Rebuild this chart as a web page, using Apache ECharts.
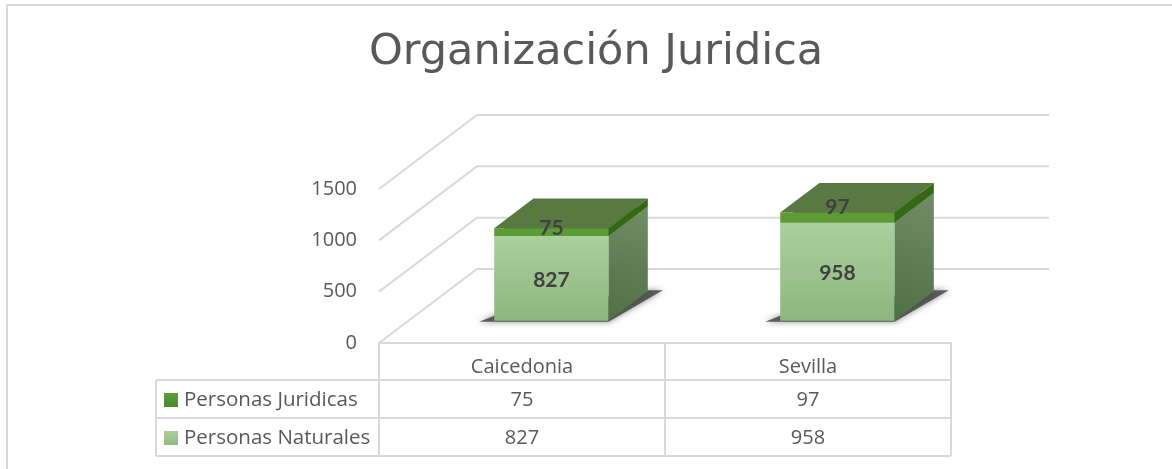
<!DOCTYPE html>
<html><head><meta charset="utf-8">
<style>html,body{margin:0;padding:0;background:#fff}#c{width:1172px;height:469px}</style>
<script src="https://cdn.jsdelivr.net/npm/echarts@6/dist/echarts.min.js"></script>
</head><body><div id="c"></div>
<script>
const categories = ['Caicedonia', 'Sevilla'];
const personasNaturales = [827, 958];
const personasJuridicas = [75, 97];
const valueTicks = [0, 500, 1000, 1500];

const DX = 98, DY = -74, NEAR = 0.30, FAR = 0.70;
const LINE = '#d9d9d9', TXT = '#595959', BOLD = '#404040';
const UI = '"Open Sans","Noto Sans",sans-serif';
const ROW_Y = { j: 400, n: 438 };
const JUR_LABEL_LIFT = [4, 10];

const vgrad = (a, b) => new echarts.graphic.LinearGradient(0, 0, 0, 1, [{offset:0,color:a},{offset:1,color:b}]);
const dgrad = (a, b) => new echarts.graphic.LinearGradient(1, 0, 0, 1, [{offset:0,color:a},{offset:1,color:b}]);

function box(api, i, base, value, pal) {
  const c0 = api.coord([i, base]), c1 = api.coord([i, base + value]);
  const w = api.size([1, 0])[0] * 0.4;
  const x0 = c0[0] + DX * NEAR - w / 2, x1 = x0 + w;
  const yb = c0[1] + DY * NEAR, yt = c1[1] + DY * NEAR;
  const dx = DX * (FAR - NEAR), dy = DY * (FAR - NEAR);
  const poly = (pts, fill) => ({ type: 'polygon', shape: { points: pts }, style: { fill } });
  return {
    x0, x1, yb, yt, dx, dy,
    faces: [
      poly([[x0,yb],[x1,yb],[x1,yt],[x0,yt]], pal.front),
      poly([[x1,yb],[x1+dx,yb+dy],[x1+dx,yt+dy],[x1,yt]], pal.side),
      poly([[x0,yt],[x1,yt],[x1+dx,yt+dy],[x0+dx,yt+dy]], pal.top)
    ]
  };
}
const rule = pts => ({ type: 'polyline', silent: true, z: 0, shape: { points: pts }, style: { stroke: LINE, lineWidth: 2, fill: null } });

const option = {
  animation: false,
  backgroundColor: '#fff',
  title: { text: 'Organización Juridica', left: 364, top: 26,
    textStyle: { fontFamily: '"DejaVu Sans",sans-serif', fontSize: 43, fontWeight: 'normal', color: TXT } },
  legend: {
    orient: 'vertical', left: 159, top: 381, itemWidth: 14, itemHeight: 14, itemGap: 10,
    selectedMode: false, icon: 'rect',
    data: ['Personas Juridicas', 'Personas Naturales'],
    textStyle: { fontFamily: UI, fontSize: 20.5, color: TXT, padding: [0,0,0,1], lineHeight: 28 }
  },
  graphic: [
    rule([[7,469],[7,5],[1172,5]]),
    rule([[379,343],[379,456]]), rule([[665,343],[665,456]]), rule([[951,343],[951,456]]),
    rule([[156,380],[951,380]]), rule([[156,418],[951,418]]), rule([[156,456],[951,456]]),
    rule([[156,380],[156,456]])
  ],
  grid: { left: 379, right: 221, top: 189, bottom: 126 },
  xAxis: { type: 'category', data: categories,
    axisLine: { lineStyle: { color: LINE, width: 2 } }, axisTick: { show: false },
    axisLabel: { margin: 14, fontFamily: UI, fontSize: 20, color: TXT } },
  yAxis: { type: 'value', min: 0, max: 1500, interval: 500,
    axisLine: { show: false }, axisTick: { show: false }, splitLine: { show: false },
    axisLabel: { margin: 22, fontFamily: UI, fontSize: 20, color: TXT, padding: [2,0,0,0], formatter: v => String(v) } },
  series: [
    { type: 'custom', name: 'walls', silent: true, clip: false, z: 1,
      data: valueTicks.map(v => [0, v]), encode: { x: 0, y: 1 },
      renderItem(p, api) {
        const s = api.size([1, 0])[0];
        const c = api.coord([0, api.value(1)]);
        const l = c[0] - s / 2, r = l + s * categories.length;
        return { type: 'polyline', shape: { points: [[l, c[1]], [l + DX, c[1] + DY], [r + DX, c[1] + DY]] },
          style: { stroke: LINE, lineWidth: 2, fill: null } };
      } },
    { type: 'custom', name: 'Personas Naturales', clip: false, z: 3,
      itemStyle: { color: vgrad('#a9cf9b', '#95bb84') },
      data: personasNaturales.map((v, i) => [i, v]), encode: { x: 0, y: 1 },
      renderItem(p, api) {
        const i = api.value(0), v = api.value(1);
        const b = box(api, i, 0, v, { front: vgrad('#abcf9d', '#8fb67f'), side: dgrad('#718d65', '#4f6f45'), top: '#587a42' });
        const cx = (b.x0 + b.x1) / 2;
        const shadow = { type: 'polygon', z2: -1,
          shape: { points: [[b.x0-15,b.yb+1],[b.x1,b.yb+1],[b.x1+b.dx+15,b.yb+b.dy-1],[b.x1+b.dx,b.yb+b.dy-1],[b.x0,b.yb-5]] },
          style: { fill: 'rgba(70,70,70,0.85)', shadowBlur: 6, shadowColor: 'rgba(60,60,60,0.7)' } };
        return { type: 'group', children: [shadow].concat(b.faces, [
          { type: 'text', z2: 10, style: { x: cx, y: (b.yb + b.yt) / 2 + 1.5, text: String(v), align: 'center', verticalAlign: 'middle',
            font: 'bold 21px Lato,sans-serif', fill: BOLD } },
          { type: 'text', style: { x: api.coord([i, 0])[0], y: ROW_Y.n, text: String(v), align: 'center', verticalAlign: 'middle',
            font: '20px ' + UI, fill: TXT } }
        ]) };
      } },
    { type: 'custom', name: 'Personas Juridicas', clip: false, z: 4,
      itemStyle: { color: vgrad('#5d9e37', '#4c8a2c') },
      data: personasJuridicas.map((v, i) => [i, v, personasNaturales[i]]), encode: { x: 0, y: 1 },
      renderItem(p, api) {
        const i = api.value(0), v = api.value(1), base = api.value(2);
        const b = box(api, i, base, v, { front: '#5c9b36', side: '#346814', top: '#587a42' });
        const cx = (b.x0 + b.x1) / 2;
        return { type: 'group', children: b.faces.concat([
          { type: 'text', z2: 10, style: { x: cx, y: (b.yb + b.yt) / 2 - JUR_LABEL_LIFT[i], text: String(v), align: 'center', verticalAlign: 'middle',
            font: 'bold 21px Lato,sans-serif', fill: BOLD } },
          { type: 'text', style: { x: api.coord([i, 0])[0], y: ROW_Y.j, text: String(v), align: 'center', verticalAlign: 'middle',
            font: '20px ' + UI, fill: TXT } }
        ]) };
      } }
  ]
};
const chart = echarts.init(document.getElementById('c'), null, { renderer: 'canvas' });
chart.setOption(option);
</script></body></html>
